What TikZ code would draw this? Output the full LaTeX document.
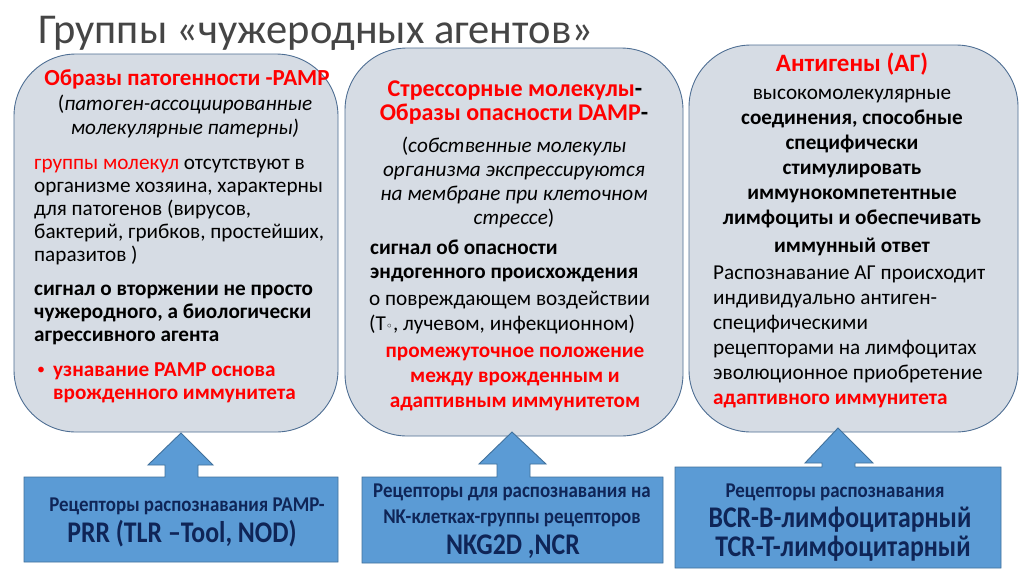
\documentclass[tikz,border=0pt]{standalone}
\usepackage{fontspec}
\setmainfont{Carlito}
\newfontfamily\condsmall{Carlito}[FakeStretch=0.9]
\newfontfamily\condbig{Carlito}[FakeStretch=0.86]
\newfontfamily\symfont{DejaVu Sans}
\definecolor{boxfill}{HTML}{D6DCE4}
\definecolor{boxline}{HTML}{4E6E93}
\definecolor{calfill}{HTML}{5B9BD5}
\definecolor{calline}{HTML}{41719C}
\definecolor{caltext}{HTML}{0F2557}
\definecolor{titlegray}{HTML}{454545}
\definecolor{hot}{HTML}{FF0000}
\begin{document}
\begin{tikzpicture}[x=1pt,y=-1pt,
  bigbox/.style={draw=boxline, fill=boxfill, line width=0.9pt, rounded corners=62pt, inner sep=0},
  callout/.style={draw=calline, fill=calfill, line width=0.9pt},
  lr/.style={inner sep=0, font=\fontsize{21.2}{25}\selectfont},
  lb/.style={inner sep=0, font=\fontsize{21.2}{25}\selectfont\bfseries},
  li/.style={inner sep=0, font=\fontsize{21.2}{25}\selectfont\itshape},
  hd/.style={inner sep=0, text=hot, font=\fontsize{#1}{#1}\selectfont\bfseries},
  red/.style={text=hot},
  cs/.style={inner sep=0, text=caltext, font=\fontsize{21}{24}\selectfont\condsmall\bfseries},
  cb/.style={inner sep=0, text=caltext, font=\fontsize{30}{33}\selectfont\condbig\bfseries}]
\useasboundingbox (0,0) rectangle (1024,574);
\fill[white] (0,0) rectangle (1024,574);

% title
\node (title) [anchor=base west, inner sep=0, text=titlegray, font=\fontsize{42.5}{46}\selectfont] at (38,43) {Группы «чужеродных агентов»};

% big boxes
\node (box1) [bigbox, minimum width=324pt, minimum height=378pt] at (176,243) {};
\node (box2) [bigbox, minimum width=338pt, minimum height=388pt] at (514,242) {};
\node (box3) [bigbox, minimum width=329pt, minimum height=387pt] at (853.5,238.5) {};

% box 1 text
\node (b1h) [hd=23, anchor=base] at (187,85) {Образы патогенности -PAMP};
\node (b1i1) [li, anchor=base] at (185,110) {\textup{(}патоген-ассоциированные};
\node (b1i2) [li, anchor=base] at (185,134) {молекулярные патерны)};
\node (b1r1) [lr, anchor=base west] at (34,169) {\textcolor{hot}{группы молекул} отсутствуют в};
\node (b1r2) [lr, anchor=base west] at (34,192) {организме хозяина, характерны};
\node (b1r3) [lr, anchor=base west] at (34,215) {для патогенов (вирусов,};
\node (b1r4) [lr, anchor=base west] at (34,238) {бактерий, грибков, простейших,};
\node (b1r5) [lr, anchor=base west] at (34,261) {паразитов )};
\node (b1b1) [lb, anchor=base west] at (34,295) {сигнал о вторжении не просто};
\node (b1b2) [lb, anchor=base west] at (34,318) {чужеродного, а биологически};
\node (b1b3) [lb, anchor=base west] at (34,341) {агрессивного агента};
\node (b1dot) [inner sep=0, red, font=\fontsize{16}{18}\selectfont, anchor=base west] at (37,374) {•};
\node (b1c1) [lb, red, anchor=base west] at (53,376) {узнавание PAMP основа};
\node (b1c2) [lb, red, anchor=base west] at (53,399) {врожденного иммунитета};

% box 2 text
\node (b2h1) [hd=24, anchor=base] at (515,96) {Стрессорные молекулы\textcolor{black}{-}};
\node (b2h2) [hd=24, anchor=base] at (514,120) {Образы опасности DAMP\textcolor{black}{-}};
\node (b2i1) [li, anchor=base] at (514,152) {\textup{(}собственные молекулы};
\node (b2i2) [li, anchor=base] at (514,176) {организма экспрессируются};
\node (b2i3) [li, anchor=base] at (514,200) {на мембране при клеточном};
\node (b2i4) [li, anchor=base] at (514,224) {стрессе\textup{)}};
\node (b2b1) [lb, anchor=base west] at (370,254) {сигнал об опасности};
\node (b2b2) [lb, anchor=base west] at (370,278) {эндогенного происхождения};
\node (b2r1) [lr, anchor=base west] at (369,305) {о повреждающем воздействии};
\node (b2r2) [lr, anchor=base west] at (369,330) {(Т{\symfont\fontsize{12}{14}\selectfont ◦}, лучевом, инфекционном)};
\node (b2c1) [lb, red, anchor=base] at (515,357) {промежуточное положение};
\node (b2c2) [lb, red, anchor=base] at (515,382) {между врожденным и};
\node (b2c3) [lb, red, anchor=base] at (515,407) {адаптивным иммунитетом};

% box 3 text
\node (b3h) [hd=25, anchor=base] at (852,71) {Антигены (АГ)};
\node (b3a1) [lr, anchor=base] at (852,99) {высокомолекулярные};
\node (b3a2) [lb, anchor=base] at (852,124) {соединения, способные};
\node (b3a3) [lb, anchor=base] at (852,149) {специфически};
\node (b3a4) [lb, anchor=base] at (852,174) {стимулировать};
\node (b3a5) [lb, anchor=base] at (852,199) {иммунокомпетентные};
\node (b3a6) [lb, anchor=base] at (852,224) {лимфоциты и обеспечивать};
\node (b3a7) [lb, anchor=base] at (852,252) {иммунный ответ};
\node (b3r1) [lr, anchor=base west] at (713,279) {Распознавание АГ происходит};
\node (b3r2) [lr, anchor=base west] at (713,304) {индивидуально антиген-};
\node (b3r3) [lr, anchor=base west] at (713,329) {специфическими};
\node (b3r4) [lr, anchor=base west] at (713,354) {рецепторами на лимфоцитах};
\node (b3r5) [lr, anchor=base west] at (713,379) {эволюционное приобретение};
\node (b3r6) [lb, red, anchor=base west] at (713,404) {адаптивного иммунитета};

% callout 1
\coordinate (c1nw) at (24,477);
\coordinate (c1se) at (338,562);
\coordinate (t1) at (181,433);
\draw[callout] (c1nw) -- (165,477) -- (165,465) -- (148,465) -- (t1) -- (213,465) -- (198,465) -- (198,477) -- (338,477) -- (c1se) -- (24,562) -- cycle;
\node (c1a) [cs, anchor=base] at (187,511) {Рецепторы распознавания PAMP-};
\node (c1b) [cb, anchor=base] at (182,542) {PRR (TLR –Tool, NOD)};

% callout 2
\coordinate (c2nw) at (362,477);
\coordinate (c2se) at (663,563);
\coordinate (t2) at (512,432);
\draw[callout] (c2nw) -- (497,477) -- (497,464) -- (479,464) -- (t2) -- (546,464) -- (530,464) -- (530,477) -- (663,477) -- (c2se) -- (362,563) -- cycle;
\node (c2a) [cs, anchor=base] at (512,497) {Рецепторы для распознавания на};
\node (c2b) [cs, anchor=base] at (512,523) {NK-клетках-группы рецепторов};
\node (c2c) [cb, anchor=base] at (513,554) {NKG2D ,NCR};

% callout 3
\coordinate (c3nw) at (675,467);
\coordinate (c3se) at (1001,568);
\coordinate (t3) at (838,428);
\draw[callout] (c3nw) -- (822,467) -- (822,463) -- (805,463) -- (t3) -- (873,463) -- (855,463) -- (855,467) -- (1001,467) -- (c3se) -- (675,568) -- cycle;
\node (c3a) [cs, anchor=base] at (835,497) {Рецепторы распознавания};
\node (c3b) [cb, anchor=base] at (840,527) {BCR-B-лимфоцитарный};
\node (c3c) [cb, anchor=base] at (843,556) {TCR-T-лимфоцитарный};
\end{tikzpicture}
\end{document}
